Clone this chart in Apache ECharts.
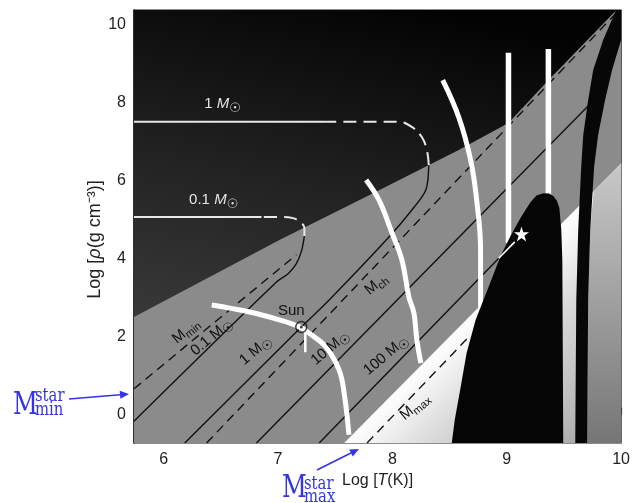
<!DOCTYPE html>
<html><head><meta charset="utf-8">
<script src="https://cdn.jsdelivr.net/npm/echarts@6/dist/echarts.min.js"></script>
<style>html,body{margin:0;padding:0;background:#fff}#c{width:633px;height:503px}</style>
</head><body><div id="c"></div>
<script>
// ---------- axes ----------
const xRange = [5.74, 10];
const yRange = [-0.73, 10.38];
const xTicks = [6, 7, 8, 9, 10];
const yTicks = [0, 2, 4, 6, 8, 10];

// ---------- regions (log T, log rho) ----------
const plotArea = [[5.74,-0.73],[10,-0.73],[10,10.38],[5.74,10.38]];
const degenerateRegion = [[5.74,2.50],[7.012,4.478],[7.796,5.63],[8.58,6.79],[9.015,7.48],[9.364,8.58],[9.96,10.38],[10,10.38],[10,-0.73],[5.74,-0.73]];
const radiationRegion = [[7.578,-0.73],[10,6.44],[10,-0.73]];
const outerRadiationStrip = [[9.703,-0.73],[9.712,2.94],[9.73,4.735],[9.76,5.74],[10,6.44],[10,-0.73]];
const pairInstabilityRegion = [[8.519,-0.73],[8.545,-0.14],[8.597,0.71],[8.649,1.58],[8.728,2.43],[8.841,3.27],[8.946,4.07],[9.033,4.58],[9.12,5.04],[9.207,5.45],[9.26,5.62],[9.32,5.68],[9.37,5.67],[9.407,5.61],[9.44,5.48],[9.46,5.30],[9.477,4.735],[9.486,3.965],[9.494,-0.73]];
const photodisintegrationRegion = [[9.956,10.38],[9.843,9.61],[9.756,8.84],[9.712,8.07],[9.669,7.17],[9.651,6.35],[9.625,4.735],[9.608,2.94],[9.599,-0.73],[9.703,-0.73],[9.712,2.94],[9.73,4.735],[9.764,6.35],[9.799,7.17],[9.86,8.07],[9.921,8.84],[10,9.61],[10,10.38]];

// ---------- burning lines (white) ----------
const hBurning  = [[6.42,2.81],[6.75,2.63],[7.01,2.43],[7.186,2.25],[7.27,2.09],[7.42,1.73],[7.534,1.14],[7.578,0.55],[7.62,-0.52]];
const heBurning = [[7.77,6.02],[7.883,5.50],[7.996,4.66],[8.083,3.965],[8.144,3.015],[8.188,2.605],[8.214,1.91],[8.249,1.32]];
const cBurning  = [[8.44,8.58],[8.58,7.63],[8.684,6.53],[8.737,5.50],[8.771,4.22],[8.771,2.68]];
const neBurning = [[9.015,9.28],[9.015,4.4]];
const oBurning  = [[9.364,9.38],[9.364,5.4]];
const sunTick   = [[7.238,2.17],[7.238,1.60]];

// ---------- stellar tracks ----------
const track01Line   = [[5.74,-0.17],[6.986,3.40],[7.09,3.62],[7.16,3.87],[7.205,4.2],[7.23,4.58]];
const track01Dashed = [[7.23,4.58],[7.23,4.79],[7.21,4.90],[7.13,5.04],[7.01,5.07],[6.855,5.07]];
const track01Solid  = [[6.855,5.07],[5.74,5.07]];
const track1Line    = [[6.184,-0.73],[7.203,2.245],[7.447,2.94],[7.97,4.555],[8.17,5.248],[8.292,5.76],[8.318,6.40]];
const track1Dashed  = [[8.318,6.40],[8.301,6.79],[8.257,7.12],[8.17,7.38],[8.057,7.51],[7.42,7.51]];
const track1Solid   = [[7.42,7.51],[5.74,7.51]];

// ---------- constant-mass lines ----------
const mMinLine   = [[5.74,0.66],[7.16,4.10]];
const mChLine    = [[6.375,-0.73],[9.95,10.28]];
const m10Line    = [[6.811,-0.73],[9.72,7.94]];
const m100Line   = [[7.36,-0.73],[8.93,4.01]];
const m100Inner  = [[8.93,4.01],[9.07,4.43]];
const mMaxLine   = [[7.778,-0.73],[8.684,2.04]];
const starPoint  = [[9.129,4.63]];
const sunPoint   = [[7.203,2.245]];

// ---------- labels ----------
const labelKeys = ['m1White','m01White','mMin','m01','m1','sun','m10','m100','mCh','mMax'];
const labelT    = [6.515, 6.437, 6.193, 6.419, 6.803, 7.116, 7.456, 7.944, 7.857, 8.196];
const labelRho  = [7.97, 5.505, 2.143, 1.99, 1.64, 2.656, 1.71, 1.52, 3.34, 0.2];

const FONT = '"Liberation Sans", Arial, Helvetica, sans-serif';
const SYM = '"DejaVu Sans", sans-serif';

function richFor(color, italic) {
  return {
    n: {fontSize: 15, fontFamily: FONT, fill: color},
    m: {fontSize: 15, fontFamily: FONT, fill: color, fontStyle: italic ? 'italic' : 'normal'},
    s: {fontSize: 11, fontFamily: FONT, fill: color, verticalAlign: 'bottom', lineHeight: 20},
    o: {fontSize: 13, fontFamily: SYM, fill: color, verticalAlign: 'bottom', lineHeight: 22}
  };
}
const labelDefs = {
  m1White:  {text: '{n|1 }{m|M}{o|☉}', color: '#e6e6e6', rot: 0, italic: true},
  m01White: {text: '{n|0.1 }{m|M}{o|☉}', color: '#e6e6e6', rot: 0, italic: true},
  mMin:     {text: '{m|M}{s|min}', color: '#111', rot: 40},
  m01:      {text: '{n|0.1 }{m|M}{o|☉}', color: '#111', rot: 40},
  m1:       {text: '{n|1 }{m|M}{o|☉}', color: '#111', rot: 40},
  sun:      {text: '{n|Sun}', color: '#111', rot: 0},
  m10:      {text: '{n|10 }{m|M}{o|☉}', color: '#111', rot: 40},
  m100:     {text: '{n|100 }{m|M}{o|☉}', color: '#111', rot: 40},
  mCh:      {text: '{m|M}{s|ch}', color: '#111', rot: 40},
  mMax:     {text: '{m|M}{s|max}', color: '#111', rot: 40}
};

function polySeries(pts, fill, z) {
  return {
    type: 'custom', coordinateSystem: 'cartesian2d', silent: true, clip: true, z: z,
    data: [[pts[0][0], pts[0][1]]],
    renderItem: function (params, api) {
      return {type: 'polygon', shape: {points: pts.map(function (p) { return api.coord(p); })}, style: {fill: fill}};
    }
  };
}
function lineSeries(data, color, width, type, z, smooth) {
  return {
    type: 'line', data: data, symbol: 'none', showSymbol: false, smooth: smooth || false,
    silent: true, clip: true, z: z, animation: false,
    lineStyle: {color: color, width: width, type: type || 'solid', cap: 'butt'}
  };
}

const G = echarts.graphic;
const darkFill = new G.LinearGradient(0.6, 0, 0.4, 1, [
  {offset: 0, color: '#030303'}, {offset: 0.45, color: '#222222'}, {offset: 1, color: '#444444'}]);
const radFill = new G.LinearGradient(0, 0, 1, 1, [
  {offset: 0, color: '#ffffff'}, {offset: 0.52, color: '#fbfbfb'}, {offset: 0.66, color: '#d8d8d8'},
  {offset: 0.85, color: '#bababa'}, {offset: 1, color: '#9a9a9a'}]);
const stripFill = new G.LinearGradient(0, 0, 0, 1, [
  {offset: 0, color: '#c8c8c8'}, {offset: 1, color: '#767676'}]);

const WD = [13, 7];
const BD = [9, 6];

const series = [
  polySeries(plotArea, darkFill, 1),
  polySeries(degenerateRegion, '#8b8b8b', 1),
  polySeries(radiationRegion, radFill, 1),
  polySeries(outerRadiationStrip, stripFill, 1),
  // black lines
  lineSeries(mMinLine, '#111', 1.4, BD, 2),
  lineSeries(mChLine, '#111', 1.4, BD, 2),
  lineSeries(m10Line, '#111', 1.4, 'solid', 2),
  lineSeries(m100Line, '#111', 1.4, 'solid', 2),
  lineSeries(mMaxLine, '#111', 1.4, BD, 2),
  lineSeries(track01Line, '#111', 1.4, 'solid', 2, 0.3),
  lineSeries(track1Line, '#111', 1.4, 'solid', 2, 0.3),
  // white tracks
  lineSeries(track01Dashed, '#e8e8e8', 2, WD, 3, 0.4),
  lineSeries(track01Solid, '#e8e8e8', 2, 'solid', 3),
  lineSeries(track1Dashed, '#e8e8e8', 2, WD, 3, 0.4),
  lineSeries(track1Solid, '#e8e8e8', 2, 'solid', 3),
  // burning lines
  lineSeries(hBurning, '#ffffff', 5, 'solid', 3, 0.4),
  lineSeries(heBurning, '#ffffff', 5, 'solid', 3, 0.4),
  lineSeries(cBurning, '#ffffff', 5, 'solid', 3, 0.4),
  lineSeries(neBurning, '#ffffff', 5.5, 'solid', 3),
  lineSeries(oBurning, '#ffffff', 5.5, 'solid', 3),
  lineSeries(sunTick, '#ffffff', 2.5, 'solid', 3),
  // black regions
  polySeries(pairInstabilityRegion, '#050505', 4),
  polySeries(photodisintegrationRegion, '#070707', 4),
  lineSeries(m100Inner, '#ffffff', 1.6, 'solid', 5),
  {
    type: 'scatter', data: starPoint, z: 6, silent: true,
    symbol: 'path://M50,0 L61.8,35.4 L99,35.4 L69,57.3 L80.3,92.7 L50,70.8 L19.7,92.7 L31,57.3 L1,35.4 L38.2,35.4 Z',
    symbolSize: 15, itemStyle: {color: '#ffffff', opacity: 1}
  },
  {
    type: 'scatter', data: sunPoint, z: 6, silent: true, symbol: 'circle', symbolSize: 11,
    itemStyle: {color: 'rgba(0,0,0,0)', borderColor: '#111', borderWidth: 1.5}
  },
  {
    type: 'scatter', data: sunPoint, z: 6, silent: true, symbol: 'circle', symbolSize: 3,
    itemStyle: {color: '#111'}
  },
  {
    type: 'custom', coordinateSystem: 'cartesian2d', silent: true, clip: false, z: 7,
    data: labelT.map(function (t, i) { return [t, labelRho[i], i]; }),
    renderItem: function (params, api) {
      const i = api.value(2);
      const def = labelDefs[labelKeys[i]];
      const p = api.coord([api.value(0), api.value(1)]);
      return {
        type: 'text', x: p[0], y: p[1], rotation: def.rot * Math.PI / 180,
        style: {text: def.text, rich: richFor(def.color, def.italic), fill: def.color,
          align: 'center', verticalAlign: 'middle', fontSize: 15, fontFamily: FONT}
      };
    }
  }
];

// ---------- blue annotations ----------
const BLUE = '#3434e6';
const SERIF = '"DejaVu Serif", "Liberation Serif", serif';
function arrow(x1, y1, x2, y2) {
  const a = Math.atan2(y2 - y1, x2 - x1), L = 9, W = 4;
  const bx = x2 - L * Math.cos(a), by = y2 - L * Math.sin(a);
  return [
    {type: 'line', shape: {x1: x1, y1: y1, x2: bx, y2: by}, style: {stroke: BLUE, lineWidth: 1.5}},
    {type: 'polygon', shape: {points: [[x2, y2], [bx - W * Math.sin(a), by + W * Math.cos(a)], [bx + W * Math.sin(a), by - W * Math.cos(a)]]}, style: {fill: BLUE}}
  ];
}
function blueText(t, x, y, size) {
  return {type: 'text', x: x, y: y, scaleX: 0.78, style: {text: t, font: size + 'px ' + SERIF, fill: BLUE, align: 'left', verticalAlign: 'bottom'}};
}
const graphics = [].concat(
  [blueText('M', 13, 421, 31), blueText('star', 35, 406, 19), blueText('min', 35, 420, 19)],
  arrow(69, 399, 129, 394),
  [blueText('M', 282, 504, 31), blueText('star', 304, 494, 19), blueText('max', 304, 507, 19)],
  arrow(317, 470, 359, 449)
);

const chart = echarts.init(document.getElementById('c'), null, {renderer: 'canvas'});
chart.setOption({
  animation: false,
  grid: {left: 134, right: 10, top: 10, bottom: 60, show: true, borderColor: '#1a1a1a', borderWidth: 1.2, backgroundColor: 'transparent'},
  xAxis: {
    type: 'value', min: xRange[0], max: xRange[1],
    name: 'Log [{i|T}(K)]', nameLocation: 'middle', nameGap: 30, nameMoveOverlap: false,
    nameTextStyle: {fontSize: 16, fontFamily: FONT, color: '#222', rich: {i: {fontStyle: 'italic', fontSize: 16, fontFamily: FONT, color: '#222'}}},
    axisLine: {show: true, lineStyle: {color: '#1a1a1a', width: 1.5}},
    axisTick: {show: true, inside: true, length: 7, customValues: xTicks, lineStyle: {color: '#1a1a1a', width: 1.2}},
    axisLabel: {customValues: xTicks, margin: 9, fontSize: 16, fontFamily: FONT, color: '#222'},
    splitLine: {show: false}
  },
  yAxis: {
    type: 'value', min: yRange[0], max: yRange[1],
    name: 'Log [{i|ρ}(g cm⁻³)]', nameLocation: 'middle', nameGap: 30, nameRotate: 90, nameMoveOverlap: false,
    nameTextStyle: {fontSize: 18, fontFamily: FONT, color: '#222', padding: [0, 26, 0, 0], rich: {i: {fontStyle: 'italic', fontSize: 18, fontFamily: FONT, color: '#222'}}},
    axisLine: {show: true, lineStyle: {color: '#1a1a1a', width: 1.5}},
    axisTick: {show: true, inside: true, length: 8, customValues: yTicks, lineStyle: {color: '#1a1a1a', width: 1.2}},
    axisLabel: {customValues: yTicks, margin: 8, fontSize: 16, fontFamily: FONT, color: '#222'},
    splitLine: {show: false}
  },
  series: series,
  graphic: graphics
});
</script></body></html>
